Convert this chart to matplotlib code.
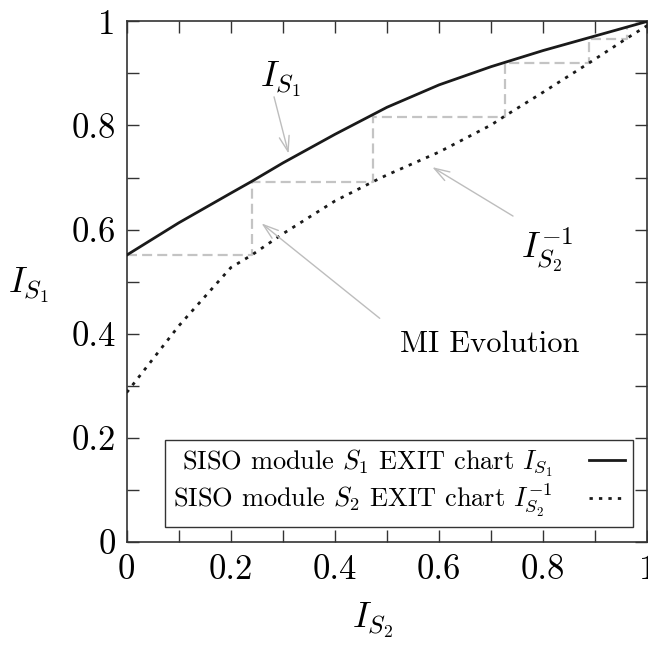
import numpy as np
import matplotlib
matplotlib.use('Agg')
from matplotlib import pyplot as plt
from matplotlib.patches import ArrowStyle

plt.rcParams['font.family'] = 'serif'
plt.rcParams['font.serif'] = ['cmr10']
plt.rcParams['mathtext.fontset'] = 'cm'
plt.rcParams['axes.formatter.use_mathtext'] = True

# EXIT chart of SISO module S1
xS1 = [0.0, 0.1, 0.2, 0.239, 0.3, 0.4, 0.5, 0.6, 0.7, 0.8, 0.9, 1.0]
yS1 = [0.551, 0.613, 0.670, 0.692, 0.728, 0.783, 0.835, 0.878, 0.913, 0.944, 0.972, 1.0]

# inverse EXIT chart of SISO module S2
xS2 = [0.0, 0.1, 0.2, 0.240, 0.3, 0.4, 0.473, 0.5, 0.6, 0.7, 0.726, 0.8,
       0.888, 0.960, 1.0]
yS2 = [0.287, 0.415, 0.527, 0.551, 0.592, 0.655, 0.692, 0.705, 0.749, 0.801,
       0.818, 0.864, 0.920, 0.967, 0.992]

# decoding trajectory between the two curves
xMI = [0.0, 0.240, 0.473, 0.727, 0.888, 0.960]
yMI = [0.551, 0.692, 0.817, 0.920, 0.967, 0.990]

ticks = [0, 0.2, 0.4, 0.6, 0.8, 1]
tickLabels = ['0', '0.2', '0.4', '0.6', '0.8', '1']

labS1 = r'SISO module $S_1$ EXIT chart $I_{S_1}$'
labS2 = r'SISO module $S_2$ EXIT chart $I_{S_2}^{-1}$'

fig = plt.figure(figsize=(6.48, 6.47), dpi=100)
ax = fig.add_axes([0.1955, 0.1623, 0.8035, 0.8047])

ax.plot(xMI, yMI, drawstyle='steps-post', color='#c4c4c4', lw=1.6,
        dashes=(4.5, 2.3), zorder=1)
ax.plot(xS1, yS1, color='#1a1a1a', lw=2.0, label=labS1, zorder=3)
ax.plot(xS2, yS2, color='#1a1a1a', lw=2.0, dashes=(1.2, 2.2), label=labS2, zorder=3)

ax.set_xlim(0, 1)
ax.set_ylim(0, 1)
ax.set_xticks(ticks)
ax.set_yticks(ticks)
ax.set_xticklabels(tickLabels)
ax.set_yticklabels(tickLabels)
ax.set_xticks(np.arange(1, 10) / 10.0, minor=True)
ax.set_yticks(np.arange(1, 10) / 10.0, minor=True)
ax.tick_params(which='both', direction='in', top=True, right=True,
               length=8.6, width=1.0, color='#333333')
ax.tick_params(axis='x', which='major', labelsize=25, pad=9)
ax.tick_params(axis='y', which='major', labelsize=25, pad=8)
for s in ax.spines.values():
    s.set_color('#333333')
    s.set_linewidth(1.2)

ax.set_ylabel(r'$I_{S_1}$', fontsize=26, rotation=0, ha='left', va='baseline')
ax.yaxis.set_label_coords(-0.227, 0.48)
ax.set_xlabel(r'$I_{S_2}$', fontsize=26, ha='left', va='baseline')
ax.xaxis.set_label_coords(0.432, -0.165)

arrowSt = ArrowStyle('->', head_length=0.55, head_width=0.18)
arrowKw = dict(arrowstyle=arrowSt, color='#bdbdbd', lw=1.0,
               mutation_scale=20, shrinkA=0, shrinkB=0)

ax.text(0.256, 0.874, r'$I_{S_1}$', fontsize=26, ha='left', va='baseline')
ax.annotate('', xy=(0.311, 0.746), xytext=(0.283, 0.855), arrowprops=arrowKw)

ax.text(0.758, 0.545, r'$I_{S_2}^{-1}$', fontsize=26, ha='left', va='baseline')
ax.annotate('', xy=(0.587, 0.720), xytext=(0.742, 0.626), arrowprops=arrowKw)

ax.text(0.5246, 0.3655, 'MI Evolution', fontsize=22, ha='left', va='baseline')
ax.annotate('', xy=(0.259, 0.612), xytext=(0.486, 0.4296), arrowprops=arrowKw)

leg = ax.legend(loc='lower right', bbox_to_anchor=(0.972, 0.029), fontsize=19,
                markerfirst=False, fancybox=False, framealpha=1,
                edgecolor='#333333', handlelength=1.35, borderpad=0.3,
                labelspacing=0.1, handletextpad=1.4, borderaxespad=0)
leg.get_frame().set_linewidth(1.0)

fig.savefig('out.png', dpi=100)
